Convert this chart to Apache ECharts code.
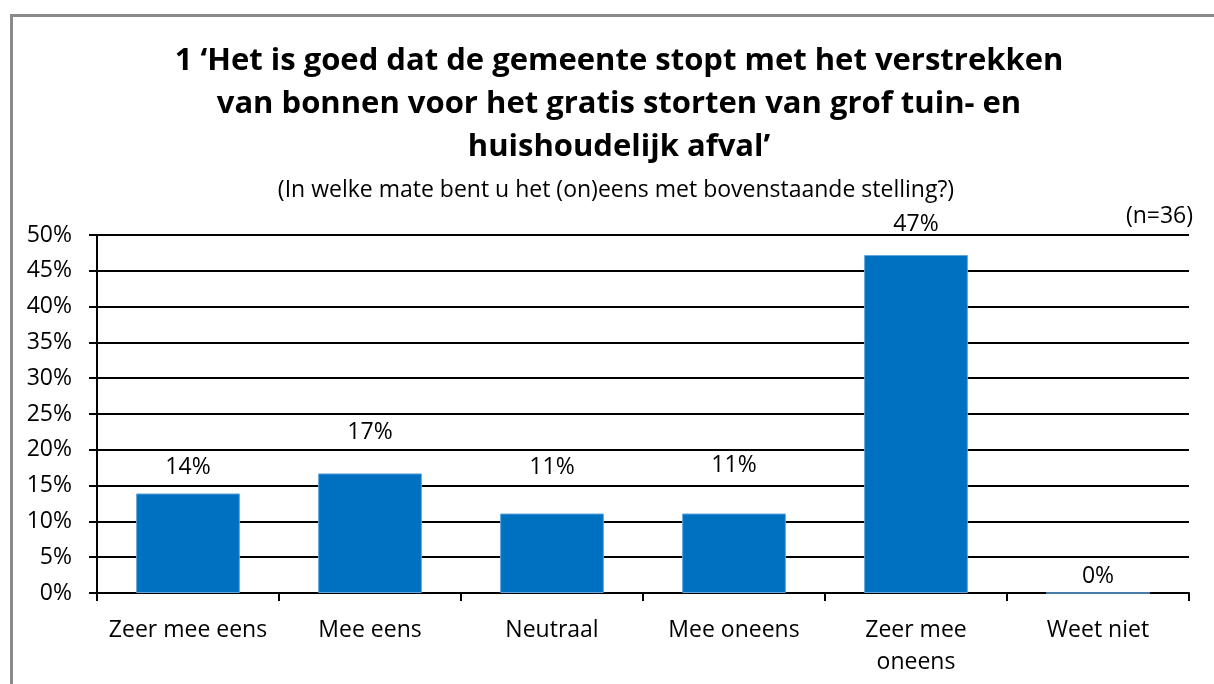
<!DOCTYPE html>
<html>
<head>
<meta charset="utf-8">
<script src="https://cdn.jsdelivr.net/npm/echarts@6/dist/echarts.min.js"></script>
<style>
  html, body { margin: 0; padding: 0; background: #fff; }
  #main { width: 1214px; height: 684px; }
</style>
</head>
<body>
<div id="main"></div>
<script>
    var myChart = echarts.init(document.getElementById('main'));

    // categorieen en percentages (n=36)
    var categories = ['Zeer mee eens', 'Mee eens', 'Neutraal', 'Mee oneens', 'Zeer mee\noneens', 'Weet niet'];
    var values = [13.9, 16.7, 11.1, 11.1, 47.2, 0];
    var labelGaps = [15, 29, 35, 37, 19, 5];

    var titleText = '1 \u2018Het is goed dat de gemeente stopt met het verstrekken\nvan bonnen voor het gratis storten van grof tuin- en\nhuishoudelijk afval\u2019';
    var subText = '(In welke mate bent u het (on)eens met bovenstaande stelling?)';
    var fontFam = '"Open Sans", Lato, sans-serif';
    var txt = 23;

    var option = {
        backgroundColor: '#fff',
        animation: false,
        // kader rond de grafiek
        graphic: [{
            type: 'rect',
            left: 9,
            top: 13,
            shape: { width: 1230, height: 700 },
            style: { fill: 'none', stroke: '#8a8a8a', lineWidth: 3 }
        }],
        title: [{
            text: titleText,
            left: 614,
            top: 35,
            textAlign: 'center',
            textStyle: {
                fontFamily: fontFam,
                fontSize: 31,
                fontWeight: 'bold',
                color: '#000',
                lineHeight: 43
            }
        }, {
            text: subText,
            left: 611,
            top: 174,
            textAlign: 'center',
            textStyle: {
                fontFamily: fontFam,
                fontSize: txt,
                fontWeight: 'normal',
                color: '#000'
            }
        }, {
            text: '(n=36)',
            right: 16,
            top: 200,
            textStyle: {
                fontFamily: fontFam,
                fontSize: txt,
                fontWeight: 'normal',
                color: '#000'
            }
        }],
        grid: {
            left: 97,
            right: 25,
            top: 235,
            bottom: 91
        },
        xAxis: {
            type: 'category',
            data: categories,
            axisLine: { lineStyle: { color: '#000', width: 2 } },
            axisTick: { show: true, length: 8, lineStyle: { color: '#000', width: 2 } },
            axisLabel: {
                color: '#000',
                fontFamily: fontFam,
                fontSize: txt,
                lineHeight: 32,
                margin: 21,
                interval: 0
            }
        },
        yAxis: {
            type: 'value',
            min: 0,
            max: 50,
            interval: 5,
            axisLine: { show: true, lineStyle: { color: '#000', width: 2 } },
            axisTick: { show: true, length: 8, lineStyle: { color: '#000', width: 2 } },
            splitLine: { lineStyle: { color: '#000', width: 2 } },
            axisLabel: {
                color: '#000',
                fontFamily: fontFam,
                fontSize: txt,
                margin: 25,
                formatter: '{value}%'
            }
        },
        series: [{
            type: 'bar',
            barWidth: '57%',
            data: values.map(function (v, i) {
                return { value: v, label: { distance: labelGaps[i] } };
            }),
            itemStyle: {
                color: '#0070C0',
                borderColor: '#5fa6dc',
                borderWidth: 1
            },
            label: {
                show: true,
                position: 'top',
                color: '#000',
                fontFamily: fontFam,
                fontSize: txt,
                formatter: function (p) {
                    return Math.round(p.value) + '%';
                }
            }
        }]
    };

    myChart.setOption(option);
</script>
</body>
</html>
